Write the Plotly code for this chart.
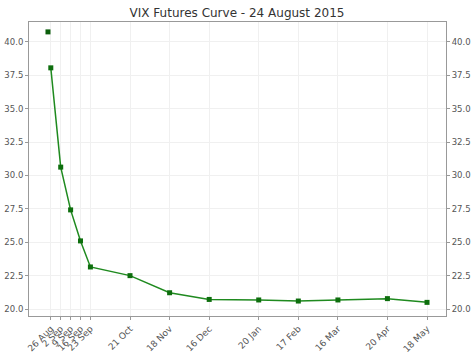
import plotly.graph_objects as go

spot_date = ["2015-08-24"]
spot_value = [40.74]

fut_dates = ["2015-08-26", "2015-09-02", "2015-09-09", "2015-09-16", "2015-09-23",
             "2015-10-21", "2015-11-18", "2015-12-16", "2016-01-20", "2016-02-17",
             "2016-03-16", "2016-04-20", "2016-05-18"]
fut_values = [38.05, 30.62, 27.42, 25.1, 23.15, 22.5, 21.22, 20.72, 20.68, 20.6,
              20.68, 20.78, 20.5]
tick_labels = ["26 Aug", "2 Sep", "9 Sep", "16 Sep", "23 Sep", "21 Oct", "18 Nov",
               "16 Dec", "20 Jan", "17 Feb", "16 Mar", "20 Apr", "18 May"]
y_ticks = [20.0, 22.5, 25.0, 27.5, 30.0, 32.5, 35.0, 37.5, 40.0]

FONT = "DejaVu Sans"
TXT = "#555555"
GRID = "#f0f0f0"
FRAME = "#999999"
yrange = [19.48, 41.48]

fig = go.Figure()
fig.add_trace(go.Scatter(
    x=fut_dates, y=fut_values, mode="lines+markers",
    line=dict(color="#1f8a1f", width=1.5),
    marker=dict(symbol="square", size=5, color="#0d6e0d"),
    showlegend=False, hoverinfo="x+y"))
fig.add_trace(go.Scatter(
    x=spot_date, y=spot_value, mode="markers",
    marker=dict(symbol="square", size=5, color="#0b5e0b"),
    showlegend=False))

fig.update_layout(
    width=474, height=355,
    margin=dict(l=29, r=28, t=22, b=39),
    paper_bgcolor="white", plot_bgcolor="white",
    font=dict(family=FONT, size=8.5, color=TXT),
    title=dict(text="VIX Futures Curve - 24 August 2015", x=0.5, xanchor="center",
               y=0.977, yanchor="top",
               font=dict(family=FONT, size=12, color="#333333")),
    xaxis=dict(type="date", range=["2015-08-10 14:00", "2016-05-31 10:00"],
               tickvals=fut_dates, ticktext=tick_labels, tickangle=-45,
               showgrid=True, gridcolor=GRID, gridwidth=1, automargin=False,
               showline=True, linecolor=FRAME, linewidth=1, mirror=True,
               ticks="outside", ticklen=3, tickcolor=FRAME,
               tickfont=dict(family=FONT, size=9, color=TXT), zeroline=False),
    yaxis=dict(range=yrange, tickvals=y_ticks, ticktext=[f"{v:.1f}" for v in y_ticks],
               showgrid=True, gridcolor=GRID, gridwidth=1, automargin=False,
               showline=True, linecolor=FRAME, linewidth=1, mirror=True,
               ticks="outside", ticklen=3, tickcolor=FRAME,
               tickfont=dict(family=FONT, size=8.5, color=TXT), zeroline=False),
    yaxis2=dict(range=yrange, overlaying="y", side="right", matches="y",
                tickvals=y_ticks, ticktext=[f"{v:.1f}" for v in y_ticks],
                showgrid=False, ticks="outside", ticklen=3, tickcolor=FRAME,
                showline=False, zeroline=False, automargin=False,
                tickfont=dict(family=FONT, size=8.5, color=TXT)),
)
fig.add_trace(go.Scatter(x=[fut_dates[0]], y=[fut_values[0]], yaxis="y2",
                         mode="markers", marker=dict(opacity=0), showlegend=False,
                         hoverinfo="skip"))
fig.write_html("out.html")
